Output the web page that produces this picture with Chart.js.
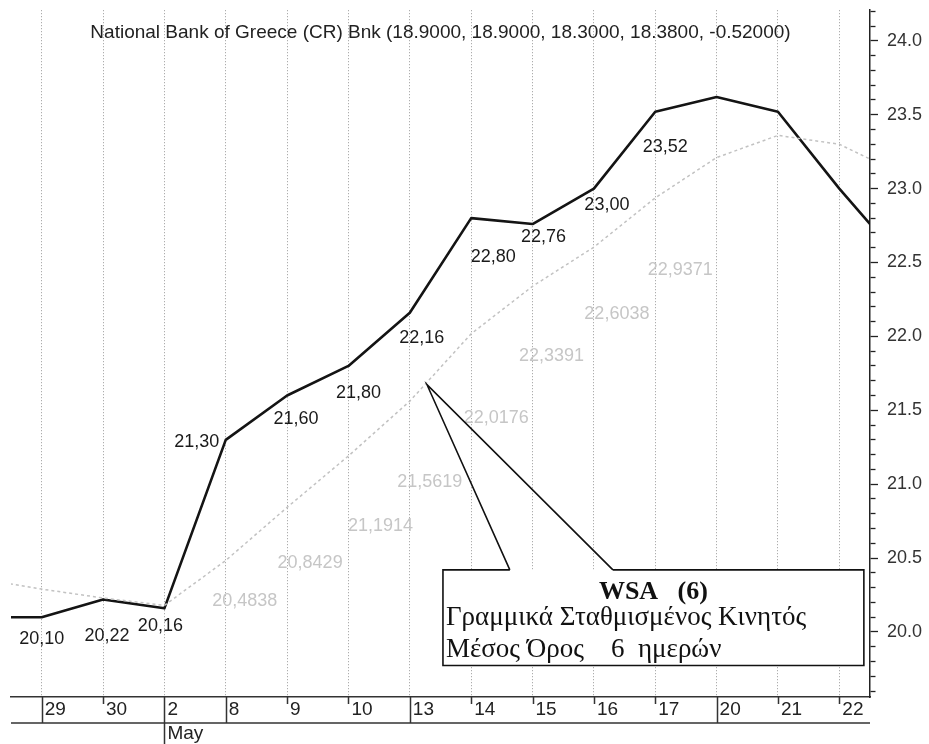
<!DOCTYPE html>
<html>
<head>
<meta charset="utf-8">
<script src="https://cdn.jsdelivr.net/npm/chart.js@4.4.1/dist/chart.umd.min.js"></script>
<style>
html,body{margin:0;padding:0;background:#fff;overflow:hidden;}
canvas{display:block;}
</style>
</head>
<body>
<canvas id="c" width="929" height="744"></canvas>
<script>
// ---------- data ----------
const titleText = 'National Bank of Greece (CR) Bnk (18.9000, 18.9000, 18.3000, 18.3800, -0.52000)';
const categories = ['29', '30', '2', '8', '9', '10', '13', '14', '15', '16', '17', '20', '21', '22'];
const monthLabels = { '2': 'May' };
const separators = ['29', '2', '8', '13', '20'];
const closeValues = [20.10, 20.22, 20.16, 21.30, 21.60, 21.80, 22.16, 22.80, 22.76, 23.00, 23.52, 23.62, 23.52, 23.00];
const closeBefore = 20.10;   // session just left of the window
const closeAfter = 22.52;    // session just right of the window
const wsaValues = [20.29, 20.23, 20.18, 20.4838, 20.8429, 21.1914, 21.5619, 22.0176, 22.3391, 22.6038, 22.9371, 23.21, 23.36, 23.30];
const wsaBefore = 20.36;
const wsaAfter = 23.10;
const closeLabelled = [0, 1, 2, 3, 4, 5, 6, 7, 8, 9, 10];
const wsaLabelled = [3, 4, 5, 6, 7, 8, 9, 10];
const yMin = 19.56, yMax = 24.207, yStep = 0.1;
const calloutTitle = 'WSA   (6)';
const calloutLines = ['Γραμμικά Σταθμισμένος Κινητός', 'Μέσος Όρος    6  ημερών'];

// ---------- styling / placement ----------
const closeLabelOffsets = [[0,22],[4,37],[-4,18],[-29,2],[9,24],[10,27],[12,25],[22,39],[11,13],[13,16],[10,35]];
const wsaLabelOffsets = [[19,41],[23,56],[32,70],[20,81],[25,84],[19,70],[23,67],[25,72]];
const callout = { x0: 6.54, x1: 13.40, yTop: 20.42, yBottom: 19.773, apexX: 6.28, apexY: 21.673, footL: 7.63, footR: 9.31 };

const SANS = '"Liberation Sans", Arial, sans-serif';
const SERIF = '"Liberation Serif", "Times New Roman", serif';

const toSeries = (before, vals, after) =>
  [{ x: -1, y: before }].concat(vals.map((v, i) => ({ x: i, y: v })), [{ x: vals.length, y: after }]);
const fmt = (v, d) => v.toFixed(d).replace('.', ',');
const isMajor = v => Math.abs(v * 2 - Math.round(v * 2)) < 1e-6;

const overlay = {
  id: 'overlay',
  afterDraw(chart) {
    const { ctx, chartArea: a, scales: { x, y } } = chart;
    ctx.save();
    // title
    ctx.fillStyle = '#222';
    ctx.font = '19px ' + SANS;
    ctx.textAlign = 'center';
    ctx.textBaseline = 'middle';
    ctx.fillText(titleText, (a.left + a.right) / 2, 33);

    // date band
    const bandTop = a.bottom, bandBottom = a.bottom + 26;
    ctx.strokeStyle = '#333';
    ctx.lineWidth = 1.5;
    ctx.beginPath();
    ctx.moveTo(a.left, bandBottom); ctx.lineTo(a.right, bandBottom);
    categories.forEach((c, i) => {
      const px = Math.round(x.getPixelForValue(i)) + 0.5;
      const yEnd = monthLabels[c] ? chart.height : (separators.includes(c) ? bandBottom : bandTop + 7);
      ctx.moveTo(px, bandTop); ctx.lineTo(px, yEnd);
    });
    ctx.stroke();

    // WSA labels
    const wsaMeta = chart.getDatasetMeta(0);
    ctx.font = '18px ' + SANS;
    ctx.fillStyle = '#c6c6c6';
    wsaLabelled.forEach((i, k) => {
      const p = wsaMeta.data[i + 1];
      ctx.fillText(fmt(wsaValues[i], 4), p.x + wsaLabelOffsets[k][0], p.y + wsaLabelOffsets[k][1]);
    });
    // price labels
    const closeMeta = chart.getDatasetMeta(1);
    ctx.fillStyle = '#1a1a1a';
    closeLabelled.forEach((i, k) => {
      const p = closeMeta.data[i + 1];
      ctx.fillText(fmt(closeValues[i], 2), p.x + closeLabelOffsets[k][0], p.y + closeLabelOffsets[k][1]);
    });

    // callout
    const bx0 = x.getPixelForValue(callout.x0), bx1 = x.getPixelForValue(callout.x1);
    const by0 = y.getPixelForValue(callout.yTop), by1 = y.getPixelForValue(callout.yBottom);
    const fl = x.getPixelForValue(callout.footL), fr = x.getPixelForValue(callout.footR);
    const ax = x.getPixelForValue(callout.apexX), ay = y.getPixelForValue(callout.apexY);
    ctx.fillStyle = '#fff';
    ctx.fillRect(bx0, by0, bx1 - bx0, by1 - by0);
    ctx.strokeStyle = '#111';
    ctx.lineWidth = 1.6;
    ctx.lineJoin = 'miter';
    ctx.beginPath();
    ctx.moveTo(fl, by0); ctx.lineTo(bx0, by0); ctx.lineTo(bx0, by1); ctx.lineTo(bx1, by1); ctx.lineTo(bx1, by0); ctx.lineTo(fr, by0);
    ctx.stroke();
    ctx.beginPath();
    ctx.moveTo(fl, by0); ctx.lineTo(ax, ay); ctx.lineTo(fr, by0);
    ctx.stroke();

    ctx.fillStyle = '#111';
    ctx.textBaseline = 'alphabetic';
    ctx.textAlign = 'center';
    ctx.font = 'bold 26px ' + SERIF;
    ctx.fillText(calloutTitle, (bx0 + bx1) / 2, by0 + 29);
    ctx.textAlign = 'left';
    ctx.font = '27px ' + SERIF;
    ctx.fillText(calloutLines[0], bx0 + 3, by0 + 55);
    ctx.fillText(calloutLines[1], bx0 + 3, by0 + 87);
    ctx.restore();
  }
};

new Chart(document.getElementById('c'), {
  type: 'line',
  data: {
    datasets: [
      { label: 'WSA (6)', data: toSeries(wsaBefore, wsaValues, wsaAfter),
        borderColor: '#c2c2c2', borderWidth: 1.5, borderDash: [3, 3], pointRadius: 0, tension: 0 },
      { label: 'National Bank of Greece', data: toSeries(closeBefore, closeValues, closeAfter),
        borderColor: '#141414', borderWidth: 2.6, pointRadius: 0, tension: 0, borderJoinStyle: 'round' }
    ]
  },
  options: {
    responsive: false,
    animation: false,
    events: [],
    layout: { padding: { left: 11, right: 0, top: 0, bottom: 0 } },
    plugins: { legend: { display: false }, title: { display: false }, tooltip: { enabled: false } },
    scales: {
      x: {
        type: 'linear', position: 'bottom', min: -0.5, max: categories.length - 0.5,
        afterBuildTicks: s => { s.ticks = categories.map((c, i) => ({ value: i })); },
        afterFit: s => { s.height = 47; },
        ticks: {
          autoSkip: false, maxRotation: 0, minRotation: 0,
          align: 'start', labelOffset: 3, padding: 1, color: '#222',
          font: { family: SANS, size: 19, lineHeight: 1.263 },
          callback: v => {
            const c = categories[Math.round(v)];
            if (c === undefined) return '';
            return monthLabels[c] ? [c, monthLabels[c]] : c;
          }
        },
        grid: { drawOnChartArea: true, drawTicks: false, color: '#9a9a9a', lineWidth: 1 },
        border: { display: true, color: '#333', width: 1.5, dash: [1, 2] }
      },
      y: {
        type: 'linear', position: 'right', min: yMin, max: yMax,
        afterFit: s => { s.width = 59; },
        ticks: {
          stepSize: yStep, includeBounds: false, autoSkip: false, padding: 9, color: '#333',
          font: c => (c.tick && isMajor(c.tick.value)) ? { family: SANS, size: 18 } : { family: SANS, size: 2 },
          callback: v => isMajor(v) ? v.toFixed(1) : ''
        },
        grid: {
          drawOnChartArea: false, drawTicks: true, tickLength: 8, tickColor: '#222', tickWidth: 1.3,
          tickBorderDash: c => (c.tick && isMajor(c.tick.value)) ? [] : [5, 60]
        },
        border: { display: true, color: '#222', width: 1.5 }
      }
    }
  },
  plugins: [overlay]
});
</script>
</body>
</html>
